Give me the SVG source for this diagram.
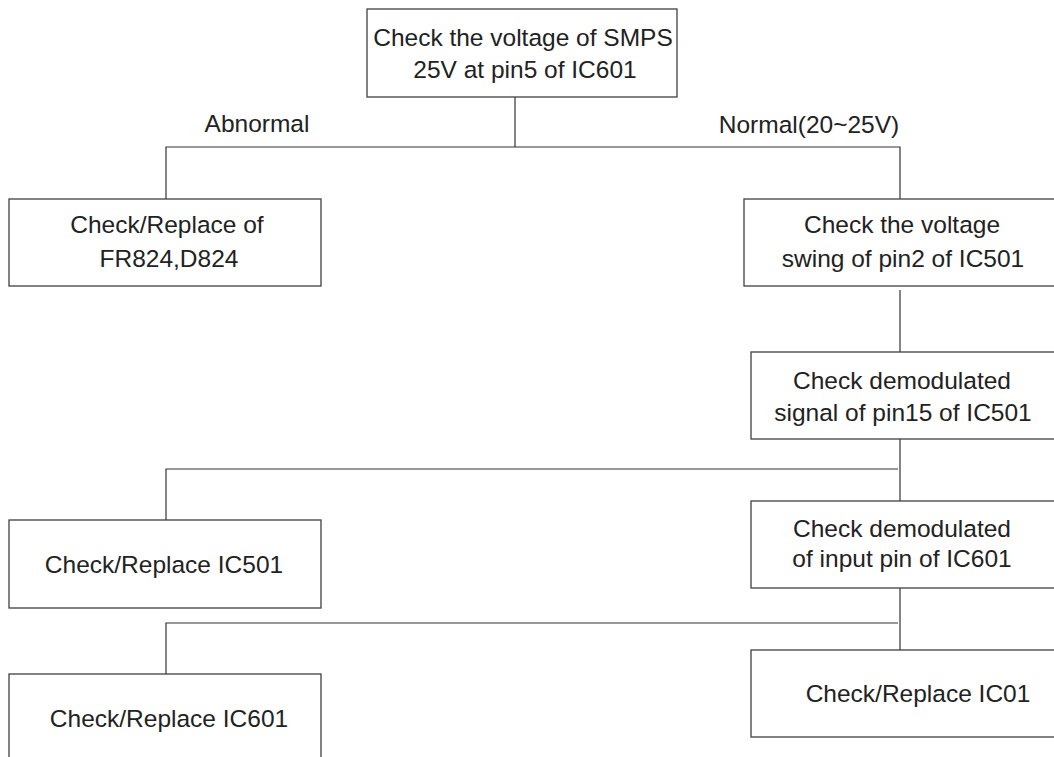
<svg xmlns="http://www.w3.org/2000/svg" width="1054" height="757" viewBox="0 0 1054 757">
<style>
.box{fill:#fff;stroke:#404040;stroke-width:1.3}
.ln{fill:none;stroke:#333;stroke-width:1.2}
text{font-family:"Liberation Sans",Arial,sans-serif;font-size:24.5px;fill:#222;text-anchor:middle}
</style>
<rect x="0" y="0" width="1054" height="757" fill="#fff"/>
<g id="connectors">
<polyline class="ln" points="515,97 515,147"/>
<polyline class="ln" points="166,199 166,147 900,147 900,199"/>
<polyline class="ln" points="900,290 900,352"/>
<polyline class="ln" points="900,439 900,501"/>
<polyline class="ln" points="898,469 166,469 166,520"/>
<polyline class="ln" points="900,588 900,650"/>
<polyline class="ln" points="898,623 166,623 166,674"/>
</g>
<g id="labels">
<text x="257" y="132">Abnormal</text>
<text x="809" y="133">Normal(20~25V)</text>
</g>
<g id="n_top">
<rect class="box" x="367" y="9" width="310" height="88"/>
<text x="523" y="46">Check the voltage of SMPS</text>
<text x="525" y="78">25V at pin5 of IC601</text>
</g>
<g id="n_fr824">
<rect class="box" x="9" y="199" width="312" height="87"/>
<text x="167" y="233">Check/Replace of</text>
<text x="169" y="267">FR824,D824</text>
</g>
<g id="n_swing">
<rect class="box" x="744" y="199" width="320" height="87"/>
<text x="902" y="233">Check the voltage</text>
<text x="903" y="267">swing of pin2 of IC501</text>
</g>
<g id="n_demod15">
<rect class="box" x="751" y="352" width="320" height="87"/>
<text x="902" y="389">Check demodulated</text>
<text x="903" y="421">signal of pin15 of IC501</text>
</g>
<g id="n_ic501">
<rect class="box" x="9" y="520" width="312" height="88"/>
<text x="164" y="573">Check/Replace IC501</text>
</g>
<g id="n_demod_in">
<rect class="box" x="751" y="501" width="320" height="87"/>
<text x="902" y="537">Check demodulated</text>
<text x="902" y="567">of input pin of IC601</text>
</g>
<g id="n_ic601">
<rect class="box" x="9" y="674" width="312" height="100"/>
<text x="169" y="727">Check/Replace IC601</text>
</g>
<g id="n_ic01">
<rect class="box" x="751" y="650" width="320" height="87"/>
<text x="918" y="702">Check/Replace IC01</text>
</g>
</svg>
